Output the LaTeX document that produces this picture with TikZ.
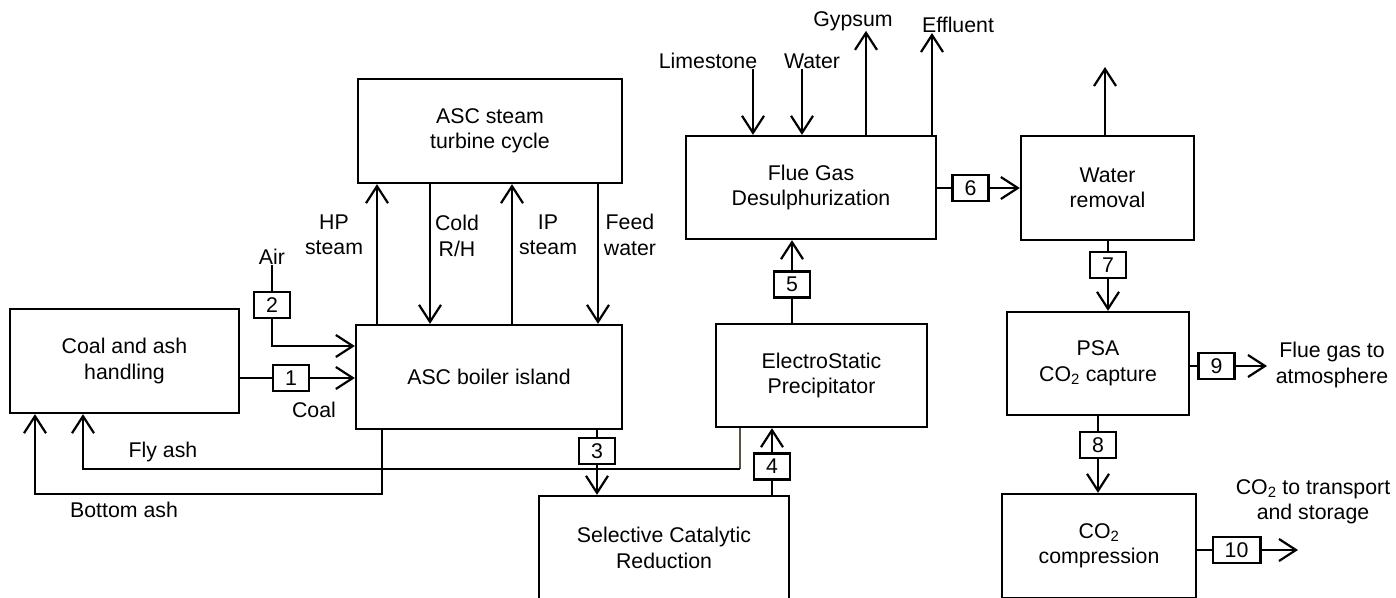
\documentclass[tikz,border=0pt]{standalone}
\usepackage{fontspec}
\setmainfont{Liberation Sans}
\usepackage{tikz}
\usetikzlibrary{
  arrows.meta,
  positioning,
  calc
}
\definecolor{ashbrown}{RGB}{92,82,60}
\newcommand{\diagfont}{\fontsize{21.3}{25.5}\selectfont}

\tikzset{
  unit/.style={draw, line width=2.3pt, align=center, inner sep=0pt, font=\diagfont},
  tag/.style={draw, fill=white, line width=2.3pt, minimum width=36pt, minimum height=26pt,
    inner xsep=12pt, inner ysep=0pt, font=\diagfont},
  lbl/.style={align=center, inner sep=0pt, font=\diagfont},
  pipe/.style={line width=2.2pt},
  flow/.style={line width=2.2pt, -{Straight Barb[length=17pt,width=22pt]}}
}

\begin{document}
\begin{tikzpicture}[x=1pt, y=-1pt]
\clip (0,0) rectangle (1396,597);

% process units
\node[unit, minimum width=229pt, minimum height=104pt] (coal) at (124.5,361) {Coal and ash\\handling};
\node[unit, minimum width=266pt, minimum height=104pt] (boiler) at (489,377) {ASC boiler island};
\node[unit, minimum width=264pt, minimum height=104pt] (turbine) at (490,131) {ASC steam\\turbine cycle};
\node[unit, minimum width=211pt, minimum height=103pt] (esp) at (821.5,375.5) {ElectroStatic\\Precipitator};
\node[unit, minimum width=250pt, minimum height=104pt] (scr) at (664,548) {Selective Catalytic\\Reduction};
\node[unit, minimum width=250pt, minimum height=103pt] (fgd) at (811,187.5) {Flue Gas\\Desulphurization};
\node[unit, minimum width=173pt, minimum height=104pt] (water) at (1107.5,188) {Water\\removal};
\node[unit, minimum width=182pt, minimum height=103pt] (psa) at (1098,363.5) {PSA\\CO\textsubscript{2} capture};
\node[unit, minimum width=194pt, minimum height=104pt] (comp) at (1099,546) {CO\textsubscript{2}\\compression};

% stream labels
\node[lbl] (air) at (272,257) {Air};
\node[lbl] (coallbl) at (314,410) {Coal};
\node[lbl] (flyash) at (163,452) {Fly ash};
\node[lbl] (botash) at (124,510) {Bottom ash};
\node[lbl] (hp) at (334,235) {HP\\steam};
\node[lbl] (cold) at (457,236) {Cold\\R/H};
\node[lbl] (ip) at (548,235) {IP\\steam};
\node[lbl] (feed) at (630,235) {Feed\\water};
\node[lbl] (lime) at (708,61) {Limestone};
\node[lbl] (wat) at (812,61) {Water};
\node[lbl] (gyp) at (853,21) {Gypsum};
\node[lbl] (eff) at (958,25) {Effluent};
\node[lbl] (atm) at (1332,365) {Flue gas to\\atmosphere};
\node[lbl] (store) at (1313,502) {CO\textsubscript{2} to transport\\and storage};

% stream numbers
\node[tag] (t1) at (291,378) {1};
\node[tag] (t2) at (272,305) {2};
\node[tag] (t3) at (597,451) {3};
\node[tag] (t4) at (772,466.5) {4};
\node[tag] (t5) at (792,284.5) {5};
\node[tag] (t6) at (970.5,188) {6};
\node[tag] (t7) at (1108,265) {7};
\node[tag] (t8) at (1098,445) {8};
\node[tag] (t9) at (1216.5,366) {9};
\node[tag] (t10) at (1236.5,550) {10};

\coordinate (wvent) at (1105,67);
\coordinate (vent) at (1267,366);
\coordinate (export) at (1298,550);

% air and coal into boiler
\draw[pipe] (air) -- (t2);
\draw[flow] (t2) |- (boiler.west |- 0,346);
\draw[pipe] (coal.east |- t1) -- (t1);
\draw[flow] (t1) -- (boiler.west |- t1);

% ash return
\draw[flow] (boiler.south -| 382,0) |- (35,494) -- (coal.south -| 35,0);
\draw[pipe, ashbrown] (esp.south -| 740,0) -- (740,469);
\draw[flow] (740,469) -| (coal.south -| 83,0);

% steam cycle
\draw[flow] (boiler.north -| 377,0) -- (turbine.south -| 377,0);
\draw[flow] (turbine.south -| 430,0) -- (boiler.north -| 430,0);
\draw[flow] (boiler.north -| 512,0) -- (turbine.south -| 512,0);
\draw[flow] (turbine.south -| 598,0) -- (boiler.north -| 598,0);

% flue gas train
\draw[pipe] (boiler.south -| t3) -- (t3);
\draw[flow] (t3) -- (scr.north -| t3);
\draw[pipe] (scr.north -| t4) -- (t4);
\draw[flow] (t4) -- (esp.south -| t4);
\draw[pipe] (esp.north -| t5) -- (t5);
\draw[flow] (t5) -- (fgd.south -| t5);

% desulphurization streams
\draw[flow] (lime.south -| 753,0) -- (fgd.north -| 753,0);
\draw[flow] (wat.south -| 802,0) -- (fgd.north -| 802,0);
\draw[flow] (fgd.north -| 866,0) -- (gyp.south -| 866,0);
\draw[flow] (fgd.north -| 932,0) -- (eff.south -| 932,0);

% water removal and capture
\draw[pipe] (fgd.east |- t6) -- (t6);
\draw[flow] (t6) -- (water.west |- t6);
\draw[flow] (water.north -| wvent) -- (wvent);
\draw[pipe] (water.south -| t7) -- (t7);
\draw[flow] (t7) -- (psa.north -| t7);
\draw[pipe] (psa.east |- t9) -- (t9);
\draw[flow] (t9) -- (vent);
\draw[pipe] (psa.south -| t8) -- (t8);
\draw[flow] (t8) -- (comp.north -| t8);
\draw[pipe] (comp.east |- t10) -- (t10);
\draw[flow] (t10) -- (export);
\end{tikzpicture}
\end{document}
